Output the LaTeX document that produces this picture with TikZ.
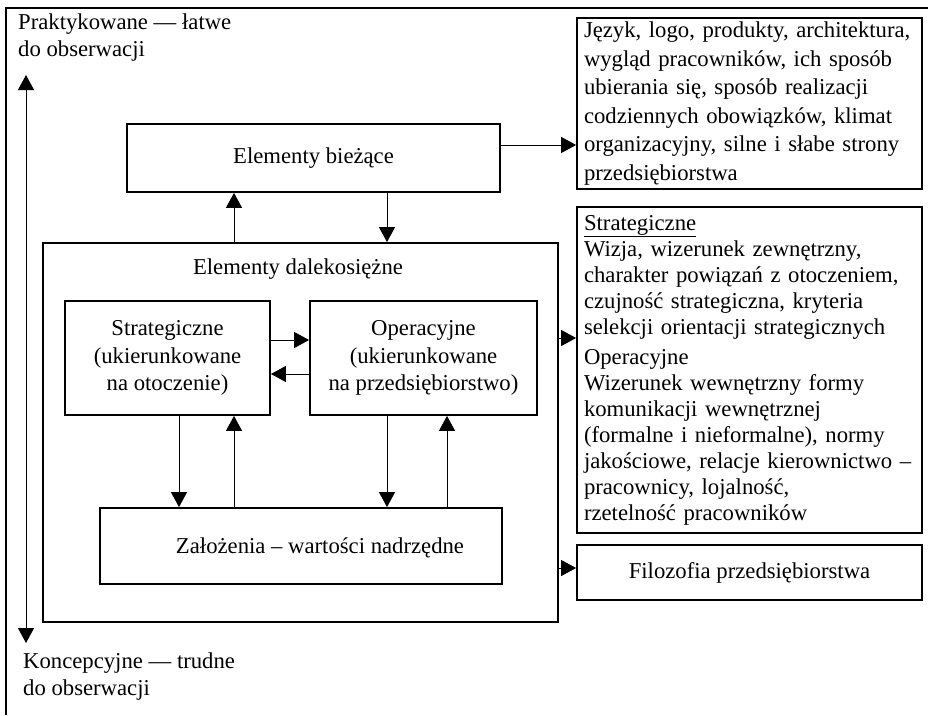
\documentclass[tikz,border=0pt]{standalone}
\usepackage{fontspec}
\setmainfont{Liberation Serif}
\usetikzlibrary{arrows.meta}
\tikzset{
  box/.style={draw, line width=1.8pt, inner sep=0pt},
  tip/.tip={Triangle[length=15pt,width=16pt]},
  arr/.style={line width=1pt, -tip},
  dblarr/.style={line width=1pt, tip-tip},
  txt/.style={font=\fontsize{22.7}{27}\selectfont, inner sep=0pt},
  listbox/.style={box, align=left, inner xsep=7pt, text width=331pt, minimum width=345pt},
}
\begin{document}
\begin{tikzpicture}[x=1pt,y=-1pt]
\useasboundingbox (0,0) rectangle (928,715);

% frame
\draw[line width=2.2pt] (6,715) -- (6,8) -- (928,8);

% vertical axis and its two ends
\node[txt, anchor=west, align=left] (hi) at (18,38) {Praktykowane — łatwe\\do obserwacji};
\node[txt, anchor=west, align=left] (lo) at (23,677) {Koncepcyjne — trudne\\do obserwacji};
\coordinate (hiTip) at (26,75);
\coordinate (loTip) at (26,643);
\draw[dblarr] (loTip) -- (hiTip);

% left-hand structure
\node[box, minimum width=373pt, minimum height=68pt] (cur) at (313.5,158) {};
\node[txt] (curlbl) at (313.5,158) {Elementy bieżące};

\node[box, minimum width=515pt, minimum height=379pt] (longterm) at (300.5,432.5) {};
\node[txt] (longlbl) at (298,269) {Elementy dalekosiężne};

\node[box, minimum width=205pt, minimum height=114pt, txt, align=center,
      font=\fontsize{22.7}{27.5}\selectfont] (strat) at (167.5,358)
  {Strategiczne\\(ukierunkowane\\na otoczenie)};
\node[box, minimum width=227pt, minimum height=114pt, txt, align=center,
      font=\fontsize{22.7}{27.5}\selectfont] (oper) at (423.5,358)
  {Operacyjne\\(ukierunkowane\\na przedsiębiorstwo)};

\node[box, minimum width=402pt, minimum height=76pt] (found) at (301,546) {};
\node[txt] (foundlbl) at (320,548) {Założenia – wartości nadrzędne};

% right-hand descriptions
\node[listbox, minimum height=171pt, font=\fontsize{22.7}{28.5}\selectfont] (visible) at (749.5,103.5)
  {Język, logo, produkty, architektura,\\
   wygląd pracowników, ich sposób\\
   ubierania się, sposób realizacji\\
   codziennych obowiązków, klimat\\
   organizacyjny, silne i słabe strony\\
   przedsiębiorstwa};

\node[listbox, minimum height=326pt, font=\fontsize{22.7}{26}\selectfont] (longdesc) at (749.5,370)
  {\underline{Strategiczne}\\
   Wizja, wizerunek zewnętrzny,\\
   charakter powiązań z otoczeniem,\\
   czujność strategiczna, kryteria\\
   selekcji orientacji strategicznych\\[4pt]
   Operacyjne\\
   Wizerunek wewnętrzny formy\\
   komunikacji wewnętrznej\\
   (formalne i nieformalne), normy\\
   jakościowe, relacje kierownictwo –\\
   pracownicy, lojalność,\\
   rzetelność pracowników};

\node[box, minimum width=345pt, minimum height=55pt, txt] (philo) at (749.5,572.5)
  {Filozofia przedsiębiorstwa};

% connectors
\draw[arr] (cur.east |- 0,145) -- (visible.west |- 0,145);
\draw[arr] (cur.south -| 387,0) -- (longterm.north -| 387,0);
\draw[arr] (longterm.north -| 234,0) -- (cur.south -| 234,0);

\draw[arr] (longterm.east |- 0,338) -- (longdesc.west |- 0,338);
\draw[arr] (longterm.east |- 0,568) -- (philo.west |- 0,568);

\draw[arr] (strat.east |- 0,340) -- (oper.west |- 0,340);
\draw[arr] (oper.west |- 0,374) -- (strat.east |- 0,374);

\draw[arr] (strat.south -| 179,0) -- (found.north -| 179,0);
\draw[arr] (found.north -| 234,0) -- (strat.south -| 234,0);
\draw[arr] (oper.south -| 387,0) -- (found.north -| 387,0);
\draw[arr] (found.north -| 447,0) -- (oper.south -| 447,0);
\end{tikzpicture}
\end{document}
